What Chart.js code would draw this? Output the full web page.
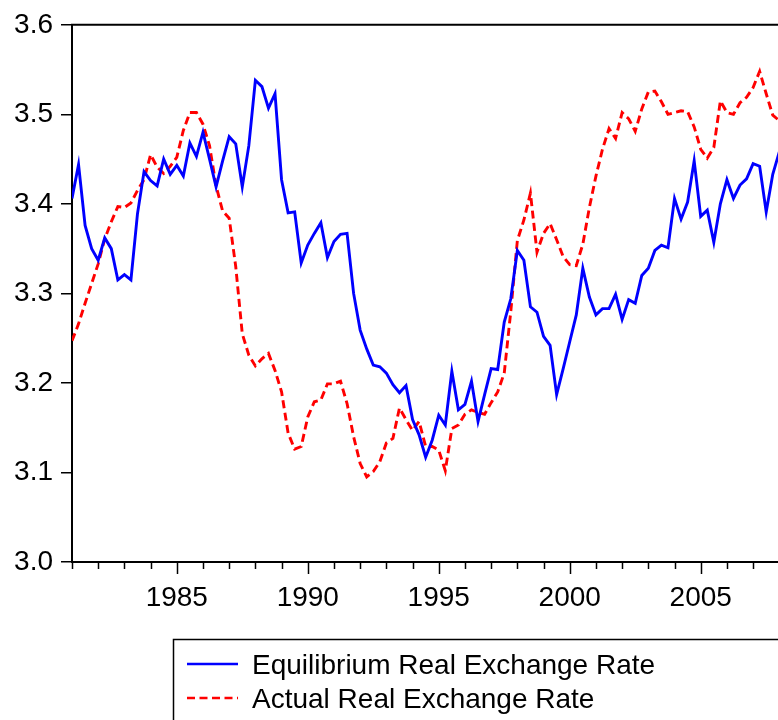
<!DOCTYPE html>
<html>
<head>
<meta charset="utf-8">
<script src="https://cdn.jsdelivr.net/npm/chart.js@4.4.1/dist/chart.umd.min.js"></script>
<style>
html,body{margin:0;padding:0;background:#fff;}
canvas{display:block;}
</style>
</head>
<body>
<canvas id="c" width="778" height="720"></canvas>
<script>
// ---- DATA ----
const quarters = [
"1981Q1","1981Q2","1981Q3","1981Q4","1982Q1","1982Q2","1982Q3","1982Q4",
"1983Q1","1983Q2","1983Q3","1983Q4","1984Q1","1984Q2","1984Q3","1984Q4",
"1985Q1","1985Q2","1985Q3","1985Q4","1986Q1","1986Q2","1986Q3","1986Q4",
"1987Q1","1987Q2","1987Q3","1987Q4","1988Q1","1988Q2","1988Q3","1988Q4",
"1989Q1","1989Q2","1989Q3","1989Q4","1990Q1","1990Q2","1990Q3","1990Q4",
"1991Q1","1991Q2","1991Q3","1991Q4","1992Q1","1992Q2","1992Q3","1992Q4",
"1993Q1","1993Q2","1993Q3","1993Q4","1994Q1","1994Q2","1994Q3","1994Q4",
"1995Q1","1995Q2","1995Q3","1995Q4","1996Q1","1996Q2","1996Q3","1996Q4",
"1997Q1","1997Q2","1997Q3","1997Q4","1998Q1","1998Q2","1998Q3","1998Q4",
"1999Q1","1999Q2","1999Q3","1999Q4","2000Q1","2000Q2","2000Q3","2000Q4",
"2001Q1","2001Q2","2001Q3","2001Q4","2002Q1","2002Q2","2002Q3","2002Q4",
"2003Q1","2003Q2","2003Q3","2003Q4","2004Q1","2004Q2","2004Q3","2004Q4",
"2005Q1","2005Q2","2005Q3","2005Q4","2006Q1","2006Q2","2006Q3","2006Q4",
"2007Q1","2007Q2","2007Q3","2007Q4","2008Q1"
];

const equilibrium = [
3.406,3.444,3.376,3.350,3.337,3.362,3.350,3.315,
3.321,3.315,3.389,3.436,3.426,3.420,3.450,3.433,
3.443,3.431,3.468,3.453,3.480,3.450,3.419,3.448,
3.475,3.467,3.419,3.465,3.538,3.531,3.507,3.523,
3.427,3.390,3.391,3.334,3.354,3.367,3.379,3.340,
3.358,3.366,3.367,3.300,3.259,3.238,3.220,3.218,
3.211,3.198,3.189,3.197,3.159,3.142,3.117,3.136,
3.164,3.153,3.213,3.170,3.176,3.202,3.157,3.187,
3.216,3.215,3.268,3.294,3.348,3.337,3.285,3.279,
3.252,3.242,3.187,3.216,3.246,3.276,3.328,3.296,
3.276,3.283,3.283,3.299,3.271,3.293,3.289,3.320,
3.328,3.348,3.354,3.351,3.406,3.383,3.402,3.448,
3.386,3.393,3.357,3.400,3.427,3.406,3.421,3.428,
3.445,3.442,3.391,3.433,3.458
];

const actual = [
3.247,3.266,3.289,3.311,3.333,3.361,3.380,3.397,
3.396,3.401,3.415,3.427,3.455,3.441,3.434,3.442,
3.452,3.482,3.502,3.502,3.489,3.465,3.420,3.392,
3.384,3.330,3.255,3.231,3.219,3.227,3.233,3.214,
3.190,3.144,3.126,3.129,3.162,3.179,3.181,3.199,
3.199,3.202,3.177,3.140,3.110,3.095,3.101,3.112,
3.133,3.138,3.172,3.159,3.147,3.157,3.129,3.129,
3.125,3.102,3.149,3.153,3.165,3.170,3.167,3.165,
3.178,3.190,3.211,3.280,3.359,3.382,3.412,3.346,
3.367,3.378,3.360,3.341,3.332,3.331,3.355,3.396,
3.431,3.461,3.484,3.473,3.502,3.495,3.481,3.506,
3.525,3.526,3.514,3.500,3.502,3.504,3.503,3.486,
3.461,3.451,3.463,3.515,3.502,3.500,3.513,3.519,
3.530,3.548,3.523,3.499,3.493
];

const seriesNames = ["Equilibrium Real Exchange Rate", "Actual Real Exchange Rate"];
const yTickValues = [3.0, 3.1, 3.2, 3.3, 3.4, 3.5, 3.6];
const xLabelYears = [1985, 1990, 1995, 2000, 2005];
const xTickYears = [1981,1982,1983,1984,1985,1986,1987,1988,1989,1990,1991,1992,1993,1994,
  1995,1996,1997,1998,1999,2000,2001,2002,2003,2004,2005,2006,2007];

// ---- helpers ----
function quarterToX(q) {
  const parts = q.split("Q");
  return Number(parts[0]) + (Number(parts[1]) - 1) / 4;
}
function toPoints(values) {
  return quarters.map((q, i) => ({ x: quarterToX(q), y: values[i] }));
}

const FONT = "'Liberation Sans', Arial, Helvetica, sans-serif";

const framePlugin = {
  id: "frame",
  afterDraw(chart) {
    const ctx = chart.ctx;
    const area = chart.chartArea;
    const xs = chart.scales.x;
    ctx.save();
    // top border of plot frame
    ctx.strokeStyle = "#000";
    ctx.lineWidth = 2;
    ctx.beginPath();
    ctx.moveTo(area.left - 1, area.top);
    ctx.lineTo(chart.width + 2, area.top);
    ctx.stroke();
    // x tick marks: long at labelled years, short otherwise
    ctx.lineWidth = 1.5;
    xs.ticks.forEach(t => {
      const px = Math.round(xs.getPixelForValue(t.value)) + 0.5;
      const len = xLabelYears.includes(t.value) ? 12 : 7;
      ctx.beginPath();
      ctx.moveTo(px, area.bottom);
      ctx.lineTo(px, area.bottom + len);
      ctx.stroke();
    });
    // legend box
    const lx = 173, ly = 639;
    ctx.lineWidth = 1.5;
    ctx.strokeRect(lx + 0.5, ly + 0.5, chart.width + 20, 200);
    ctx.font = "28px " + FONT;
    ctx.textBaseline = "alphabetic";
    ctx.textAlign = "left";
    ctx.fillStyle = "#000";
    const rows = [664, 698];
    chart.data.datasets.forEach((ds, i) => {
      const y = rows[i];
      ctx.save();
      ctx.strokeStyle = ds.borderColor;
      ctx.lineWidth = 2.5;
      ctx.setLineDash(ds.borderDash || []);
      ctx.beginPath();
      ctx.moveTo(187, y);
      ctx.lineTo(238, y);
      ctx.stroke();
      ctx.restore();
      ctx.fillText(ds.label, 252, y + 10);
    });
    ctx.restore();
  }
};

new Chart(document.getElementById("c"), {
  type: "line",
  data: {
    datasets: [
      {
        label: seriesNames[0],
        data: toPoints(equilibrium),
        borderColor: "#0000ff",
        borderWidth: 2.9,
        pointRadius: 0,
        tension: 0,
        fill: false
      },
      {
        label: seriesNames[1],
        data: toPoints(actual),
        borderColor: "#ff0000",
        borderWidth: 2.9,
        borderDash: [8, 4.5],
        pointRadius: 0,
        tension: 0,
        fill: false
      }
    ]
  },
  options: {
    responsive: false,
    animation: false,
    devicePixelRatio: 1,
    events: [],
    layout: { padding: { top: 24, right: 0, bottom: 0, left: 0 } },
    plugins: {
      legend: { display: false },
      tooltip: { enabled: false },
      title: { display: false }
    },
    scales: {
      x: {
        type: "linear",
        min: 1981,
        max: 2007.95,
        afterBuildTicks(scale) {
          scale.ticks = xTickYears.map(v => ({ value: v }));
        },
        afterFit(scale) { scale.height = 158; },
        ticks: {
          autoSkip: false,
          maxRotation: 0,
          includeBounds: false,
          padding: 19,
          color: "#000",
          font: { family: FONT, size: 28 },
          callback: v => (xLabelYears.includes(v) ? String(v) : "")
        },
        grid: { display: false, drawOnChartArea: false, drawTicks: false },
        border: { display: true, color: "#000", width: 2 }
      },
      y: {
        type: "linear",
        min: 3.0,
        max: 3.6,
        afterBuildTicks(scale) {
          scale.ticks = yTickValues.map(v => ({ value: v }));
        },
        afterFit(scale) { scale.width = 72; },
        ticks: {
          padding: 8,
          color: "#000",
          font: { family: FONT, size: 28 },
          callback: v => Number(v).toFixed(1)
        },
        grid: {
          display: true,
          drawOnChartArea: false,
          drawTicks: true,
          tickLength: 11,
          color: "#000",
          lineWidth: 1.5
        },
        border: { display: true, color: "#000", width: 2 }
      }
    }
  },
  plugins: [framePlugin]
});
</script>
</body>
</html>
